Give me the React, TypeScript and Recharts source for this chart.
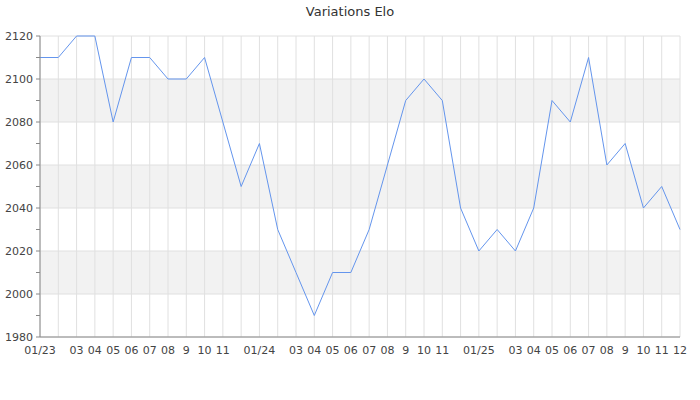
import React from "react";
import { LineChart, Line, XAxis, YAxis, CartesianGrid } from "recharts";

// monthly Elo, Jan 2023 .. Dec 2025
const months = [
  "01/23", "", "03", "04", "05", "06", "07", "08", "9", "10", "11", "",
  "01/24", "", "03", "04", "05", "06", "07", "08", "9", "10", "11", "",
  "01/25", "", "03", "04", "05", "06", "07", "08", "9", "10", "11", "12",
];
const elo = [
  2110, 2110, 2120, 2120, 2080, 2110, 2110, 2100, 2100, 2110, 2080, 2050,
  2070, 2030, 2010, 1990, 2010, 2010, 2030, 2060, 2090, 2100, 2090, 2040,
  2020, 2030, 2020, 2040, 2090, 2080, 2110, 2060, 2070, 2040, 2050, 2030,
];
const yTicks = [1980, 1990, 2000, 2010, 2020, 2030, 2040, 2050, 2060, 2070, 2080, 2090, 2100, 2110, 2120];
const gridValues = [1980, 2000, 2020, 2040, 2060, 2080, 2100, 2120];

const data = elo.map((v, i) => ({ i, elo: v }));
const xTicks = months.map((_, i) => i);

const font = { fontFamily: "DejaVu Sans", fontSize: 11, fill: "#444" };

const App = () => {
  return (
    <div style={{ position: "relative", width: 700, height: 400, background: "#fff" }}>
      <style>{"body{margin:0}"}</style>
      <div
        style={{
          position: "absolute",
          top: 4,
          width: 700,
          textAlign: "center",
          fontFamily: "DejaVu Sans",
          fontSize: 13,
          color: "#333",
        }}
      >
        Variations Elo
      </div>
      <LineChart width={700} height={400} data={data} margin={{ top: 36, right: 20, left: 0, bottom: 33 }}>
        <CartesianGrid
          stroke="#e0e0e0"
          horizontalValues={gridValues}
          horizontalFill={["#ffffff", "#f2f2f2"]}
        />
        <XAxis
          dataKey="i"
          type="number"
          domain={[0, 35]}
          ticks={xTicks}
          interval={0}
          tickFormatter={(i: number) => months[i]}
          tickLine={false}
          tickSize={4}
          tickMargin={5}
          height={30}
          stroke="#888"
          tick={font}
        />
        <YAxis
          domain={[1980, 2120]}
          ticks={yTicks}
          interval={0}
          tickFormatter={(v: number) => (v % 20 === 0 ? String(v) : "")}
          width={40}
          tickSize={4}
          tickMargin={3}
          stroke="#888"
          tick={font}
        />
        <Line
          type="linear"
          dataKey="elo"
          stroke="#6495ed"
          strokeWidth={1}
          dot={false}
          isAnimationActive={false}
        />
      </LineChart>
    </div>
  );
};

export default App;
